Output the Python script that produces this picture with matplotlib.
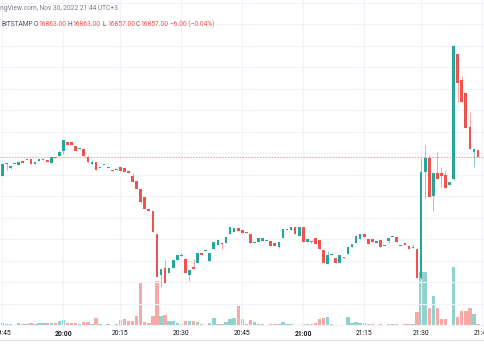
import matplotlib
matplotlib.use("Agg")
import matplotlib.pyplot as plt
import matplotlib.transforms as mtransforms
from matplotlib.lines import Line2D
import numpy as np

plt.rcParams['font.family'] = ['Roboto', 'DejaVu Sans']

# BTC/USD 1-minute candles, Bitstamp, Nov 30 2022 (UTC+3)
opens = [16839.2, 16850.0, 16846.1, 16850.0, 16849.4, 16853.1, 16853.6, 16854.7, 16849.8, 16853.1,
         16853.6, 16853.8, 16851.3, 16856.9, 16857.5, 16862.2, 16870.5, 16870.5, 16866.8, 16863.6,
         16864.3, 16856.9, 16850.4, 16851.9, 16846.0, 16848.8, 16846.0, 16844.5, 16844.4, 16847.6,
         16846.4, 16843.9, 16839.2, 16834.5, 16826.6, 16819.1, 16807.9, 16806.6, 16785.0, 16746.6,
         16753.1, 16749.0, 16753.1, 16760.8, 16764.4, 16761.4, 16746.9, 16754.6, 16757.7, 16767.0,
         16768.8, 16760.2, 16771.0, 16774.5, 16776.3, 16776.9, 16785.3, 16786.6, 16790.3, 16788.2,
         16786.8, 16784.7, 16776.3, 16777.3, 16778.8, 16778.4, 16778.2, 16776.3, 16773.2, 16781.0,
         16788.6, 16788.7, 16791.2, 16783.1, 16791.2, 16777.8, 16778.5, 16781.0, 16779.1, 16769.8,
         16757.4, 16765.1, 16763.0, 16758.3, 16763.3, 16766.1, 16773.2, 16776.9, 16780.6, 16785.2,
         16780.0, 16780.0, 16776.9, 16779.4, 16773.7, 16778.8, 16782.4, 16782.5, 16773.7, 16776.3,
         16773.8, 16771.7, 16771.0, 16743.8, 16842.4, 16855.7, 16820.6, 16842.0, 16841.4, 16839.9,
         16830.5, 16836.4, 16952.4, 16928.2, 16916.4, 16884.2, 16861.5, 16863.0]
highs = [16850.6, 16850.6, 16848.5, 16850.4, 16851.9, 16853.1, 16854.0, 16854.7, 16852.2, 16854.7,
         16855.4, 16853.8, 16856.9, 16856.9, 16862.2, 16872.4, 16870.5, 16870.5, 16866.8, 16863.8,
         16864.3, 16857.5, 16853.8, 16851.9, 16846.2, 16849.0, 16846.2, 16844.5, 16844.6, 16847.6,
         16846.4, 16843.9, 16841.4, 16834.5, 16826.6, 16819.1, 16807.9, 16806.6, 16785.0, 16752.2,
         16760.8, 16753.6, 16760.8, 16765.2, 16767.6, 16762.7, 16751.5, 16761.4, 16767.3, 16767.0,
         16769.0, 16767.0, 16777.3, 16779.4, 16776.3, 16782.5, 16791.2, 16790.8, 16790.3, 16788.2,
         16786.8, 16784.7, 16777.8, 16781.0, 16781.0, 16778.6, 16778.2, 16776.3, 16777.5, 16789.3,
         16788.8, 16791.8, 16791.2, 16791.2, 16791.2, 16780.1, 16778.5, 16781.0, 16779.1, 16769.8,
         16769.5, 16765.3, 16763.0, 16765.4, 16763.3, 16773.2, 16775.7, 16783.1, 16785.0, 16785.2,
         16780.0, 16780.0, 16778.5, 16779.4, 16773.9, 16781.0, 16782.6, 16782.5, 16773.9, 16776.3,
         16773.8, 16775.4, 16771.0, 16855.4, 16867.8, 16858.4, 16842.0, 16861.2, 16847.0, 16843.6,
         16833.1, 16960.6, 16952.4, 16932.2, 16916.4, 16898.7, 16863.8, 16863.0]
lows = [16838.5, 16844.3, 16845.1, 16849.6, 16849.4, 16851.3, 16853.4, 16849.8, 16849.8, 16853.1,
        16853.6, 16851.9, 16851.3, 16855.4, 16857.5, 16859.7, 16868.0, 16867.5, 16862.2, 16863.5,
        16857.5, 16851.7, 16850.4, 16844.5, 16845.9, 16848.7, 16845.9, 16843.3, 16844.3, 16843.6,
        16842.2, 16841.4, 16833.6, 16826.6, 16814.1, 16808.2, 16806.1, 16787.1, 16745.3, 16736.0,
        16739.7, 16749.0, 16753.1, 16760.8, 16764.3, 16749.0, 16741.5, 16752.2, 16757.7, 16765.7,
        16768.7, 16760.2, 16771.0, 16774.5, 16770.8, 16776.9, 16785.3, 16786.6, 16788.1, 16785.9,
        16786.2, 16776.3, 16776.3, 16777.3, 16778.8, 16778.3, 16774.1, 16774.1, 16772.2, 16781.0,
        16788.5, 16788.7, 16785.0, 16783.1, 16777.8, 16777.8, 16776.3, 16776.0, 16771.0, 16758.3,
        16757.4, 16765.0, 16758.3, 16758.3, 16762.4, 16766.1, 16773.2, 16776.9, 16780.6, 16782.2,
        16776.0, 16777.8, 16776.9, 16773.2, 16773.6, 16776.3, 16782.3, 16777.3, 16773.6, 16775.0,
        16771.0, 16771.7, 16744.3, 16743.1, 16818.2, 16819.7, 16806.4, 16835.9, 16829.0, 16828.0,
        16830.5, 16835.5, 16908.0, 16908.0, 16883.3, 16863.8, 16847.6, 16857.0]
closes = [16850.1, 16850.3, 16848.5, 16850.2, 16851.9, 16851.3, 16853.8, 16849.8, 16852.2, 16854.7,
          16853.8, 16851.9, 16856.9, 16855.4, 16861.5, 16872.4, 16868.0, 16867.5, 16862.2, 16863.7,
          16857.5, 16851.7, 16852.2, 16844.5, 16846.1, 16848.9, 16846.1, 16843.3, 16844.5, 16843.6,
          16842.2, 16841.4, 16833.6, 16826.6, 16815.0, 16808.2, 16806.1, 16787.1, 16745.3, 16752.2,
          16739.7, 16753.6, 16760.8, 16765.2, 16764.5, 16749.0, 16751.5, 16752.2, 16767.3, 16765.7,
          16768.9, 16767.0, 16777.3, 16779.4, 16775.7, 16782.5, 16791.2, 16790.8, 16788.1, 16785.9,
          16786.2, 16776.3, 16777.8, 16781.0, 16781.0, 16778.5, 16774.1, 16774.1, 16777.5, 16789.3,
          16788.7, 16791.2, 16785.0, 16791.2, 16777.8, 16780.1, 16777.3, 16776.0, 16771.0, 16758.3,
          16765.2, 16765.2, 16758.3, 16765.4, 16762.4, 16773.2, 16775.7, 16783.1, 16785.0, 16782.2,
          16776.0, 16777.8, 16778.5, 16773.2, 16773.8, 16781.0, 16782.5, 16777.3, 16773.8, 16775.0,
          16771.0, 16773.2, 16744.3, 16842.6, 16855.7, 16819.7, 16842.0, 16835.9, 16839.2, 16828.0,
          16833.1, 16960.1, 16925.7, 16908.0, 16883.3, 16863.8, 16863.8, 16857.0]
volumes = [2.3, 1.0, 0.7, 0.3, 1.7, 1.0, 1.3, 1.7, 1.3, 2.0,
           2.0, 1.7, 2.0, 1.7, 3.7, 5.3, 2.3, 2.3, 2.0, 1.3,
           3.3, 3.3, 1.3, 6.7, 0.7, 0.3, 0.7, 0.3, 1.0, 5.0,
           6.0, 4.3, 4.3, 9.3, 42.7, 3.0, 2.3, 9.3, 44.0, 9.3,
           10.0, 3.7, 4.0, 2.3, 0.7, 3.7, 3.7, 4.0, 3.3, 1.3,
           0.3, 2.0, 6.7, 0.7, 1.3, 3.3, 5.7, 7.3, 19.3, 5.7,
           1.0, 4.7, 2.7, 0.7, 1.0, 0.3, 0.7, 1.0, 1.3, 3.0,
           1.3, 1.0, 0.3, 0.3, 1.3, 1.3, 1.3, 2.0, 6.0, 7.3,
           7.7, 1.0, 0.3, 0.3, 0.3, 8.0, 2.3, 3.0, 1.7, 1.7,
           1.3, 0.7, 0.3, 1.3, 0.3, 1.0, 0.7, 1.3, 0.3, 0.7,
           1.0, 0.7, 12.7, 53.0, 53.0, 17.0, 29.0, 17.5, 6.3, 6.3,
           0.3, 58.3, 7.7, 14.0, 14.3, 17.0, 11.0, 1.3]

tick_pos = [0, 15, 29, 44, 59, 74, 89, 103, 118]
tick_labels = ['19:45', '20:00', '20:15', '20:30', '20:45', '21:00', '21:15', '21:30', '21:45']
bold_labels = ['20:00', '21:00']
last_price = 16857.0

UP = '#26a69a'
DOWN = '#ef5350'
UP_VOL = '#92d2cc'
DOWN_VOL = '#f7a9a7'

W, H = 485, 360
PANE_H = 327
PX = 20 / 21.5          # price per pixel
TOP_PRICE = 17002.6

o = np.array(opens)
h = np.array(highs)
l = np.array(lows)
c = np.array(closes)
idx = np.arange(len(o))
up = c >= o

fig = plt.figure(figsize=(W / 100, H / 100), dpi=100)
ax = fig.add_axes([0, (H - PANE_H) / H, 1, PANE_H / H])
for s in ax.spines.values():
    s.set_visible(False)

# grid
ax.set_yticks(np.arange(16700, 17001, 20))
ax.set_xticks(tick_pos)
ax.grid(True, color='#f0f3fa', lw=0.8, zorder=0)
ax.tick_params(axis='y', left=False, labelleft=False)
ax.tick_params(axis='x', length=0, pad=2.5, labelsize=4.9, labelcolor='#131722')
ax.set_xticklabels(tick_labels)
for t in ax.get_xticklabels():
    if t.get_text() in bold_labels:
        t.set_fontweight('bold')

# volume bars, sitting on the bottom of the pane
vol_tf = mtransforms.blended_transform_factory(
    ax.transData,
    mtransforms.Affine2D().translate(0, 2).scale(1, 1 / PANE_H) + ax.transAxes)
ax.bar(idx, volumes, width=0.84, bottom=0,
       color=[UP_VOL if u else DOWN_VOL for u in up],
       transform=vol_tf, zorder=1, linewidth=0)

# last price line
ax.axhline(last_price, color=DOWN, alpha=0.6, lw=0.7, ls=(0, (1.5, 1.5)), zorder=2)

# candles
cols = [UP if u else DOWN for u in up]
ax.vlines(idx, l, h, colors=cols, lw=0.7, alpha=0.55, zorder=3)
body_lo = np.minimum(o, c)
body_h = np.maximum(np.abs(c - o), PX)
ax.bar(idx, body_h, bottom=body_lo, width=0.66, color=cols, linewidth=0, zorder=4)

ax.set_xlim(-0.615, 118.72)
ax.set_ylim(TOP_PRICE - PX * PANE_H, TOP_PRICE)

# header legend
fig.text(118 / W, 1 - 8.5 / H, 'TradingView.com, Nov 30, 2022 21:44 UTC+3',
         ha='right', va='center', fontsize=4.8, color='#787b86')
pieces = [(1.7, 'BITSTAMP', '#50535e'),
          (34, 'O', '#50535e'), (38, '16863.00', DOWN),
          (68, 'H', '#50535e'), (72, '16863.00', DOWN),
          (103, 'L', '#50535e'), (107, '16857.00', DOWN),
          (136, 'C', '#50535e'), (140, '16857.00', DOWN),
          (170, '\u22126.00 (\u22120.04%)', DOWN)]
for x, txt, col in pieces:
    fig.text(x / W, 1 - 24.5 / H, txt, ha='left', va='center', fontsize=4.8, color=col)

fig.add_artist(Line2D([0, 1], [1 - 340 / H, 1 - 340 / H], color='#e0e3eb', lw=0.8))

fig.savefig('out.png', dpi=100, facecolor='white')
